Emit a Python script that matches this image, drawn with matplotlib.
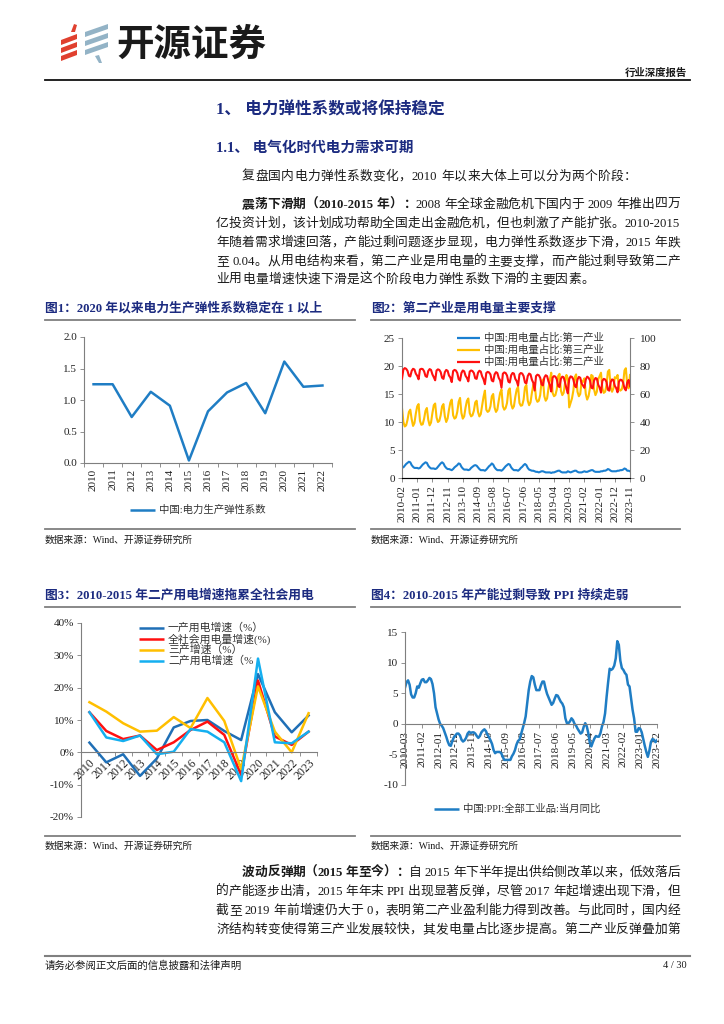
import re
import numpy as np
import matplotlib
matplotlib.use('Agg')
import matplotlib.pyplot as plt
from matplotlib.lines import Line2D
from matplotlib.patches import Polygon

plt.rcParams['font.family'] = ['Liberation Serif', 'Noto Sans CJK SC', 'DejaVu Sans']
plt.rcParams['axes.unicode_minus'] = False

NAVY = '#1c2b80'
BLUE = '#1f7dc4'
DBLUE = '#1f6fb6'
LBLUE = '#14aff0'
RED = '#ff1010'
GOLD = '#ffbf00'
AXC = '#7f7f7f'
TXT = '#1a1a1a'

# ---- 图1 数据 ----
years1 = ['2010', '2011', '2012', '2013', '2014', '2015', '2016',
          '2017', '2018', '2019', '2020', '2021', '2022']
elasticity = [1.25, 1.25, 0.73, 1.13, 0.91, 0.04, 0.82, 1.12, 1.27, 0.79, 1.61, 1.21, 1.23]

# ---- 图2 数据 (2010-02 ~ 2023-11, 月度) ----
months2_labels = ['2010-02', '2011-01', '2011-12', '2012-11', '2013-10', '2014-09',
                  '2015-08', '2016-07', '2017-06', '2018-05', '2019-04', '2020-03',
                  '2021-02', '2022-01', '2022-12', '2023-11']
share_primary = [
    2.0, 1.9, 2.2, 2.5, 2.7, 2.9, 2.8, 2.3, 2.0, 1.8, 1.8,
    1.8, 1.7, 1.8, 2.1, 2.4, 2.6, 2.8, 2.7, 2.2, 1.9, 1.7, 1.7,
    1.7, 1.6, 1.7, 2.0, 2.3, 2.6, 2.8, 2.6, 2.1, 1.8, 1.6, 1.6,
    1.5, 1.4, 1.6, 1.9, 2.1, 2.3, 2.6, 2.5, 2.0, 1.7, 1.5, 1.5,
    1.5, 1.4, 1.5, 1.8, 2.0, 2.2, 2.3, 2.2, 1.9, 1.6, 1.4, 1.4,
    1.4, 1.3, 1.5, 1.8, 2.1, 2.3, 2.6, 2.4, 1.9, 1.6, 1.4, 1.4,
    1.4, 1.3, 1.5, 1.8, 2.1, 2.3, 2.5, 2.4, 1.9, 1.6, 1.4, 1.4,
    1.4, 1.3, 1.5, 1.8, 2.0, 2.3, 2.5, 2.3, 1.8, 1.5, 1.4, 1.3,
    1.3, 1.2, 1.1, 1.1, 1.0, 1.1, 1.2, 1.2, 1.1, 1.0, 1.0, 1.0,
    1.0, 0.9, 1.0, 1.0, 1.1, 1.2, 1.3, 1.3, 1.1, 1.0, 1.0, 1.0,
    1.0, 1.2, 1.1, 1.0, 1.1, 1.2, 1.3, 1.3, 1.1, 1.0, 1.0, 1.0,
    1.1, 1.2, 1.1, 1.1, 1.2, 1.3, 1.4, 1.4, 1.2, 1.1, 1.1, 1.1,
    1.1, 1.2, 1.2, 1.3, 1.3, 1.4, 1.6, 1.5, 1.3, 1.2, 1.2, 1.2,
    1.2, 1.3, 1.3, 1.4, 1.4, 1.5, 1.7, 1.6, 1.3, 1.3, 1.2,
]
share_tertiary = [
    12.5, 10.0, 9.2, 9.4, 10.4, 11.8, 12.2, 10.5, 9.3, 9.8, 11.5,
    12.8, 13.2, 10.2, 9.5, 9.6, 10.6, 12.0, 12.5, 10.4, 9.4, 9.9, 11.6,
    13.0, 13.3, 10.8, 10.0, 10.2, 11.2, 12.8, 13.2, 11.0, 10.0, 10.6, 12.2,
    13.5, 14.0, 11.2, 10.6, 10.8, 11.8, 13.6, 14.3, 11.6, 10.6, 11.0, 12.6,
    13.8, 14.2, 11.6, 11.0, 11.2, 12.0, 13.5, 13.8, 11.8, 11.0, 11.4, 13.0,
    14.5, 15.6, 12.2, 11.8, 12.0, 12.8, 14.6, 15.0, 12.6, 11.8, 12.2, 13.8,
    15.2, 15.8, 12.8, 12.2, 12.5, 13.4, 15.6, 16.0, 13.2, 12.4, 12.8, 14.5,
    15.8, 16.3, 13.4, 12.9, 13.0, 14.0, 16.2, 16.6, 13.8, 13.0, 13.5, 15.2,
    16.6, 17.0, 14.2, 13.6, 13.8, 14.8, 17.2, 17.6, 14.6, 13.8, 14.2, 16.0,
    17.6, 18.8, 15.2, 14.6, 14.8, 15.8, 18.2, 18.6, 15.6, 14.8, 15.2, 17.0,
    18.4, 17.8, 12.6, 13.4, 14.2, 15.6, 18.0, 18.5, 15.4, 14.6, 15.0, 17.4,
    17.2, 17.8, 15.0, 14.0, 14.6, 16.0, 18.4, 18.2, 15.8, 14.8, 15.4, 17.6,
    18.2, 18.8, 16.0, 15.2, 15.4, 16.6, 19.0, 19.3, 16.2, 15.4, 16.0, 18.0,
    17.8, 18.4, 16.0, 15.6, 15.8, 16.8, 19.2, 19.6, 16.6, 16.0, 18.4,
]
share_secondary = [
    71.0, 77.5, 78.5, 78.0, 76.5, 73.0, 72.5, 76.5, 78.0, 77.5, 74.5,
    73.0, 70.5, 77.5, 78.0, 77.8, 76.2, 72.8, 72.2, 76.4, 77.8, 77.2, 74.0,
    72.0, 69.8, 76.8, 77.6, 77.2, 75.6, 71.6, 70.8, 75.6, 77.2, 76.6, 73.2,
    71.8, 68.5, 76.4, 77.2, 76.8, 75.0, 70.6, 69.6, 75.0, 76.8, 76.2, 73.0,
    71.5, 69.0, 76.0, 76.8, 76.4, 75.0, 71.2, 70.8, 75.2, 76.6, 76.0, 72.6,
    70.5, 67.0, 75.0, 75.8, 75.4, 74.0, 69.6, 69.0, 74.0, 75.6, 75.0, 71.5,
    69.8, 64.5, 74.5, 75.4, 75.0, 73.2, 68.8, 68.2, 73.4, 75.0, 74.6, 70.8,
    69.2, 66.0, 74.0, 75.0, 74.6, 72.8, 68.2, 67.6, 72.8, 74.6, 74.0, 70.2,
    68.0, 62.5, 72.8, 73.8, 73.4, 71.6, 66.8, 66.2, 71.8, 73.4, 72.8, 69.0,
    66.5, 61.8, 71.8, 72.8, 72.4, 70.6, 65.6, 65.0, 70.8, 72.4, 72.0, 68.2,
    64.0, 60.5, 70.6, 72.6, 72.2, 70.4, 65.8, 64.8, 70.4, 72.2, 71.6, 67.4,
    66.0, 64.4, 70.4, 72.4, 71.6, 69.8, 64.6, 64.0, 69.6, 71.4, 71.0, 66.6,
    64.6, 61.0, 69.4, 70.8, 70.4, 68.6, 63.0, 62.4, 68.4, 70.4, 70.0, 65.8,
    64.2, 61.2, 68.8, 70.2, 70.0, 68.2, 64.0, 62.6, 68.2, 70.0, 65.6,
]

# ---- 图3 数据 (%) ----
years3 = ['2010', '2011', '2012', '2013', '2014', '2015', '2016',
          '2017', '2018', '2019', '2020', '2021', '2022', '2023']
g_primary = [3.0, -3.1, -0.6, -7.3, -1.9, 7.7, 9.7, 10.0, 6.6, 3.8, 24.2, 12.4, 6.2, 11.4]
g_total = [12.4, 6.6, 4.1, 5.2, 0.7, 3.1, 6.9, 9.5, 5.4, -7.0, 22.2, 4.9, 2.3, 6.4]
g_tertiary = [15.5, 12.6, 9.0, 6.4, 6.7, 10.9, 7.5, 16.8, 9.7, -5.2, 20.4, 6.4, 0.0, 12.1]
g_secondary = [12.4, 4.6, 3.5, 5.2, -0.6, 0.2, 7.2, 6.4, 3.1, -8.9, 29.0, 3.1, 2.8, 6.4]

# ---- 图4 数据 PPI 当月同比 (2010-03 ~ 2023-12) ----
months4_labels = ['2010-03', '2011-02', '2012-01', '2012-12', '2013-11', '2014-10',
                  '2015-09', '2016-08', '2017-07', '2018-06', '2019-05', '2020-04',
                  '2021-03', '2022-02', '2023-01', '2023-12']
ppi = [
    5.9, 6.8, 7.1, 6.4, 4.8, 4.3, 4.3, 5.0, 6.1, 5.9,
    6.6, 7.2, 7.3, 6.8, 6.8, 7.1, 7.5, 7.3, 6.5, 5.0, 2.7, 1.7,
    0.7, 0.0, -0.3, -0.7, -1.4, -2.1, -2.9, -3.5, -3.6, -2.8, -2.2, -1.9,
    -1.6, -1.6, -1.9, -2.6, -2.9, -2.7, -2.3, -1.6, -1.3, -1.5, -1.4, -1.4,
    -1.6, -2.0, -2.3, -2.0, -1.4, -1.1, -0.9, -1.2, -1.8, -2.2, -2.7, -3.3,
    -4.3, -4.8, -4.6, -4.6, -4.6, -4.8, -5.4, -5.9, -5.9, -5.9, -5.9, -5.9,
    -5.3, -4.9, -4.3, -3.4, -2.8, -2.6, -1.7, -0.8, 0.1, 1.2, 3.3, 5.5,
    6.9, 7.8, 7.6, 6.4, 5.5, 5.5, 5.5, 6.3, 6.9, 6.9, 5.8, 4.9,
    4.3, 3.7, 3.1, 3.4, 4.1, 4.7, 4.6, 4.1, 3.6, 3.3, 2.7, 0.9,
    0.1, 0.1, 0.4, 0.9, 0.6, 0.0, -0.3, -0.8, -1.2, -1.6, -1.4, -0.5,
    0.1, -0.4, -1.5, -3.1, -3.7, -3.0, -2.4, -2.0, -2.1, -2.1, -1.5, -0.4,
    0.3, 1.7, 4.4, 6.8, 9.0, 8.8, 9.0, 9.5, 10.7, 13.5, 12.9, 10.3,
    9.1, 8.8, 8.3, 8.0, 6.4, 6.1, 4.2, 2.3, 0.9, -1.3, -1.3, -0.7,
    -0.8, -1.4, -2.5, -3.6, -4.6, -5.4, -4.4, -3.0, -2.5, -2.6, -3.0, -2.7,
]

W, H = 724, 1024
fig = plt.figure(figsize=(7.24, 10.24), dpi=100)
renderer = fig.canvas.get_renderer()


def fx(x):
    return x / W


def fy(y):
    return 1 - y / H


def axes_px(l, t, r, b):
    return fig.add_axes([fx(l), fy(b), (r - l) / W, (b - t) / H])


def hline(x0, x1, y, color=AXC, lw=1.3):
    fig.add_artist(Line2D([fx(x0), fx(x1)], [fy(y), fy(y)],
                          transform=fig.transFigure, color=color, lw=lw))


def legend_row(x, y, color, label, lw=2.0, length=25, size=7.5):
    fig.add_artist(Line2D([fx(x), fx(x + length)], [fy(y), fy(y)],
                          transform=fig.transFigure, color=color, lw=lw,
                          solid_capstyle='butt'))
    fig.text(fx(x + length + 4), fy(y), label, fontsize=size, va='center',
             ha='left', color='#333333')


TOKENS = re.compile(r'[A-Za-z0-9.\-/%]+| |.')


def body_line(y, parts, x0=216, x1=680, justify=True, size=9.2):
    # 两端对齐: 按字逐个放置, 把多余的宽度平均分到字间
    items = []
    for txt, bold in parts:
        for tok in TOKENS.findall(txt):
            if tok == ' ':
                items.append((None, size * 0.35))
                continue
            t = fig.text(0, fy(y), tok, fontsize=size, va='baseline', ha='left',
                         fontweight='bold' if bold else 'normal', color=TXT)
            items.append((t, t.get_window_extent(renderer).width))
    total = sum(w for _, w in items)
    gap = (x1 - x0 - total) / (len(items) - 1) if justify else 0.3
    x = x0
    for t, w in items:
        if t is not None:
            t.set_x(fx(x))
        x += w + gap


def style(ax):
    for s in ['top', 'right']:
        ax.spines[s].set_visible(False)
    for s in ['left', 'bottom', 'right']:
        ax.spines[s].set_color(AXC)
        ax.spines[s].set_linewidth(0.8)
    ax.tick_params(labelsize=8, length=3, width=0.6, color=AXC, labelcolor='#222222', pad=2)


# ---------- 页眉 ----------
red_bars = [
    [(61, 45), (77, 39), (77, 34), (61, 40)],
    [(61, 53), (77, 47), (77, 42), (61, 48)],
    [(61, 61), (77, 55), (77, 50), (61, 56)],
    [(71, 32), (74, 24), (77, 25), (75, 32)],
]
blue_bars = [
    [(85, 37), (108, 29), (108, 24), (85, 32)],
    [(85, 46), (108, 38), (108, 33), (85, 41)],
    [(85, 55), (108, 47), (108, 42), (85, 50)],
    [(95, 56), (99, 63), (102, 63), (99, 55)],
]
for pts in red_bars:
    fig.add_artist(Polygon([(fx(a), fy(b)) for a, b in pts], closed=True,
                           transform=fig.transFigure, color='#e0402f', lw=0))
for pts in blue_bars:
    fig.add_artist(Polygon([(fx(a), fy(b)) for a, b in pts], closed=True,
                           transform=fig.transFigure, color='#93b3c6', lw=0))
fig.text(fx(116), fy(44), '开源证券', fontsize=27, fontweight='bold', va='center',
         ha='left', color='#1a1a1a', family='Noto Sans CJK SC')
fig.text(fx(687), fy(73), '行业深度报告', fontsize=7.5, fontweight='bold', va='center',
         ha='right', color=TXT)
hline(45, 690, 80, color='#111111', lw=1.3)

# ---------- 标题与正文 ----------
fig.text(fx(216), fy(110), '1、 电力弹性系数或将保持稳定', fontsize=12, fontweight='bold',
         color=NAVY, va='center', ha='left')
fig.text(fx(216), fy(148), '1.1、 电气化时代电力需求可期', fontsize=10.5, fontweight='bold',
         color=NAVY, va='center', ha='left')

body_line(180, [('复盘国内电力弹性系数变化，2010 年以来大体上可以分为两个阶段：', False)],
          x0=242, justify=False)
body_line(208, [('震荡下滑期（2010-2015 年）：', True),
                ('2008 年全球金融危机下国内于 2009 年推出四万', False)], x0=242)
body_line(227, [('亿投资计划，该计划成功帮助全国走出金融危机，但也刺激了产能扩张。2010-2015', False)])
body_line(246, [('年随着需求增速回落，产能过剩问题逐步显现，电力弹性系数逐步下滑，2015 年跌', False)])
body_line(265, [('至 0.04。从用电结构来看，第二产业是用电量的主要支撑，而产能过剩导致第二产', False)])
body_line(283, [('业用电量增速快速下滑是这个阶段电力弹性系数下滑的主要因素。', False)], justify=False)

# ---------- 图1 ----------
fig.text(fx(45), fy(308), '图1：2020 年以来电力生产弹性系数稳定在 1 以上', fontsize=9.2,
         fontweight='bold', color=NAVY, va='center', ha='left')
hline(45, 355, 320)
ax1 = axes_px(84, 337, 332, 463)
style(ax1)
x1 = np.arange(len(years1))
ax1.plot(x1, elasticity, color=BLUE, lw=1.8)
ax1.set_xlim(-0.5, len(years1) - 0.5)
ax1.set_ylim(0, 2.0)
ax1.set_yticks([0, 0.5, 1.0, 1.5, 2.0], ['0.0', '0.5', '1.0', '1.5', '2.0'])
ax1.set_xticks(x1, years1, rotation=90)
ax1.set_xticks(np.arange(-0.5, len(years1)), minor=True)
ax1.tick_params(axis='x', which='major', length=0, pad=4)
ax1.tick_params(axis='x', which='minor', length=3, width=0.6, color=AXC)
legend_row(130, 510, BLUE, '中国:电力生产弹性系数', lw=1.8)
hline(45, 355, 529)
fig.text(fx(45), fy(540), '数据来源：Wind、开源证券研究所', fontsize=7, va='center', ha='left', color=TXT)

# ---------- 图2 ----------
fig.text(fx(371), fy(308), '图2：第二产业是用电量主要支撑', fontsize=9.2,
         fontweight='bold', color=NAVY, va='center', ha='left')
hline(371, 680, 320)
ax2 = axes_px(402, 338, 630, 478)
style(ax2)
x2 = np.arange(len(share_primary))
ax2.plot(x2, share_primary, color='#1a7fd0', lw=1.5)
ax2.plot(x2, share_tertiary, color=GOLD, lw=1.5)
ax2.set_xlim(0, len(x2) - 1)
ax2.set_ylim(0, 25)
ax2.set_yticks([0, 5, 10, 15, 20, 25])
ax2.set_xticks(np.arange(0, len(x2), 11), months2_labels, rotation=90)
ax2r = ax2.twinx()
ax2r.plot(x2, share_secondary, color=RED, lw=1.5)
ax2r.set_ylim(0, 100)
ax2r.set_yticks([0, 20, 40, 60, 80, 100])
ax2r.spines['top'].set_visible(False)
ax2r.spines['left'].set_visible(False)
ax2r.spines['right'].set_color(AXC)
ax2r.spines['right'].set_linewidth(0.8)
ax2r.tick_params(labelsize=8, length=3, width=0.6, color=AXC, labelcolor='#222222', pad=4)
legend_row(457, 338, '#1a7fd0', '中国:用电量占比:第一产业', lw=1.6, length=23, size=7.5)
legend_row(457, 350, GOLD, '中国:用电量占比:第三产业', lw=1.6, length=23, size=7.5)
legend_row(457, 362, RED, '中国:用电量占比:第二产业', lw=1.6, length=23, size=7.5)
hline(371, 680, 529)
fig.text(fx(371), fy(540), '数据来源：Wind、开源证券研究所', fontsize=7, va='center', ha='left', color=TXT)

# ---------- 图3 ----------
fig.text(fx(45), fy(595), '图3：2010-2015 年二产用电增速拖累全社会用电', fontsize=9.2,
         fontweight='bold', color=NAVY, va='center', ha='left')
hline(45, 355, 607)
ax3 = axes_px(81, 623, 317, 817)
ax3.spines['bottom'].set_position(('data', 0))
style(ax3)
x3 = np.arange(len(years3))
ax3.plot(x3, g_primary, color=DBLUE, lw=1.8)
ax3.plot(x3, g_total, color=RED, lw=1.8)
ax3.plot(x3, g_tertiary, color=GOLD, lw=1.8)
ax3.plot(x3, g_secondary, color=LBLUE, lw=1.8)
ax3.set_xlim(-0.5, len(years3) - 0.5)
ax3.set_ylim(-20, 40)
ax3.set_yticks([-20, -10, 0, 10, 20, 30, 40], ['-20%', '-10%', '0%', '10%', '20%', '30%', '40%'])
ax3.set_xticks(x3, years3, rotation=45, ha='right', rotation_mode='anchor')
ax3.set_xticks(np.arange(-0.5, len(years3)), minor=True)
ax3.tick_params(axis='x', which='major', length=0, pad=3, labelsize=8.5)
ax3.tick_params(axis='x', which='minor', length=3, width=0.6, color=AXC)
legend_row(139, 628, DBLUE, '一产用电增速（%）', lw=1.8, size=7.8)
legend_row(139, 639, RED, '全社会用电量增速(%)', lw=1.8, size=7.8)
legend_row(139, 650, GOLD, '三产增速（%）', lw=1.8, size=7.8)
legend_row(139, 661, LBLUE, '二产用电增速（%', lw=1.8, size=7.8)
hline(45, 355, 836)
fig.text(fx(45), fy(846), '数据来源：Wind、开源证券研究所', fontsize=7, va='center', ha='left', color=TXT)

# ---------- 图4 ----------
fig.text(fx(371), fy(595), '图4：2010-2015 年产能过剩导致 PPI 持续走弱', fontsize=9.2,
         fontweight='bold', color=NAVY, va='center', ha='left')
hline(371, 680, 607)
ax4 = axes_px(405, 632, 657, 785)
ax4.spines['bottom'].set_position(('data', 0))
style(ax4)
x4 = np.arange(len(ppi))
ax4.plot(x4, ppi, color=BLUE, lw=1.8)
ax4.set_xlim(0, len(x4) - 1)
ax4.set_ylim(-10, 15)
ax4.set_yticks([-10, -5, 0, 5, 10, 15])
ax4.set_xticks(np.arange(0, len(x4), 11), months4_labels, rotation=90)
legend_row(434, 809, BLUE, '中国:PPI:全部工业品:当月同比', lw=1.8, size=7.5)
hline(371, 680, 836)
fig.text(fx(371), fy(846), '数据来源：Wind、开源证券研究所', fontsize=7, va='center', ha='left', color=TXT)

# ---------- 正文 (下) ----------
body_line(876, [('波动反弹期（2015 年至今）：', True),
                ('自 2015 年下半年提出供给侧改革以来，低效落后', False)], x0=242)
body_line(895, [('的产能逐步出清，2015 年年末 PPI 出现显著反弹，尽管 2017 年起增速出现下滑，但', False)])
body_line(914, [('截至 2019 年前增速仍大于 0，表明第二产业盈利能力得到改善。与此同时，国内经', False)])
body_line(933, [('济结构转变使得第三产业发展较快，其发电量占比逐步提高。第二产业反弹叠加第', False)])

# ---------- 页脚 ----------
hline(45, 690, 956, color='#808080', lw=1.5)
fig.text(fx(45), fy(966), '请务必参阅正文后面的信息披露和法律声明', fontsize=7.5, va='center',
         ha='left', color=TXT)
fig.text(fx(687), fy(966), '4 / 30', fontsize=7.5, va='center', ha='right', color=TXT)

fig.savefig('out.png', dpi=100)
